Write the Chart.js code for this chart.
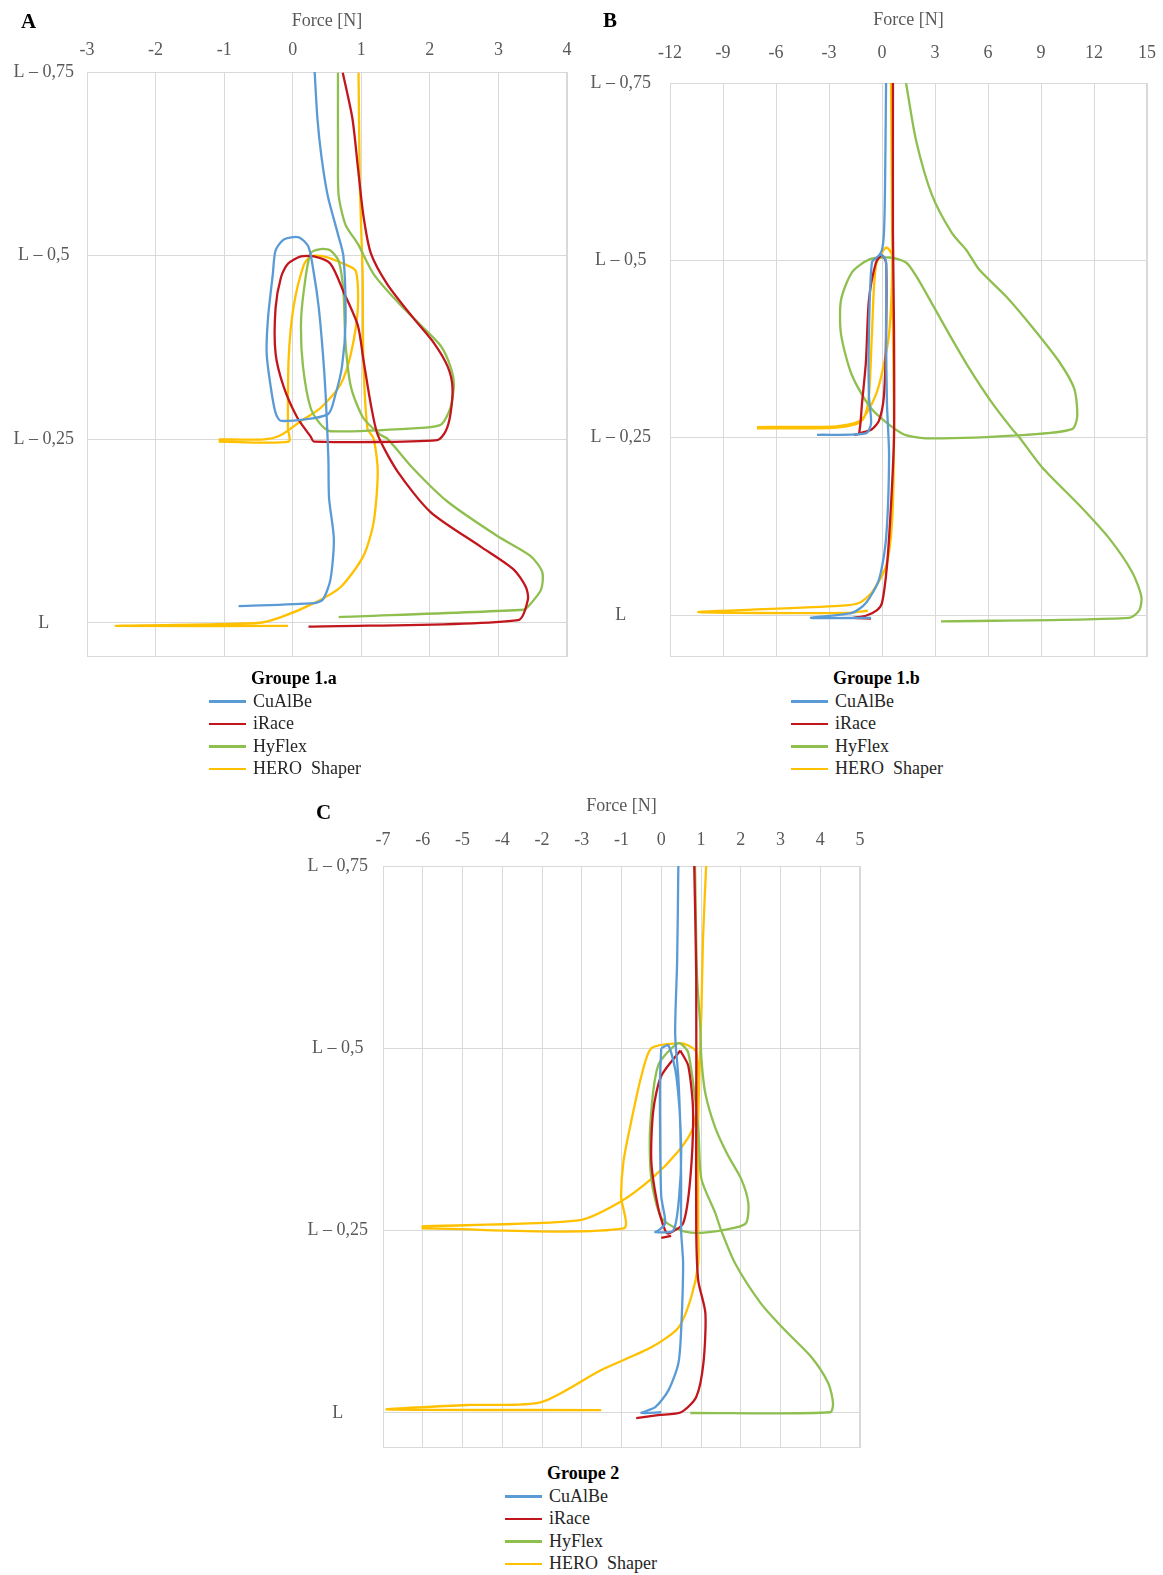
<!DOCTYPE html>
<html>
<head>
<meta charset="utf-8">
<script src="https://cdn.jsdelivr.net/npm/chart.js@4/dist/chart.umd.min.js"></script>
<style>
  body { margin: 0; background: #fff; width: 1163px; height: 1575px; position: relative; overflow: hidden; font-family: "Liberation Serif", "Times New Roman", serif; }
  canvas { position: absolute; }
  .letter { position: absolute; font-weight: bold; font-size: 21px; color: #000; line-height: 24px; }
  .legend { position: absolute; font-size: 18px; color: #262626; line-height: 22.5px; white-space: pre; }
  .legend .t { font-weight: bold; color: #000; }
  .legend .sw { display: inline-block; width: 37px; height: 2.5px; vertical-align: middle; margin-right: 7px; margin-top: -2px; }
</style>
</head>
<body>
<canvas id="chartA" width="580" height="660" style="left:0;top:0"></canvas>
<canvas id="chartB" width="580" height="660" style="left:583px;top:0"></canvas>
<canvas id="chartC" width="580" height="660" style="left:296px;top:790px"></canvas>
<div class="letter" style="left:21px;top:9px">A</div>
<div class="letter" style="left:603px;top:8px">B</div>
<div class="letter" style="left:316px;top:800px">C</div>
<div class="legend" id="legA" style="left:209px;top:667px"></div>
<div class="legend" id="legB" style="left:791px;top:667px"></div>
<div class="legend" id="legC" style="left:505px;top:1462px"></div>
<script>
// series names / colours
const seriesNames = ["CuAlBe", "iRace", "HyFlex", "HERO  Shaper"];
const seriesColors = ["#5b9bd5", "#c0161c", "#8fbf4f", "#ffc000"];

// y axis: distance from L (0 = L, 0.75 = L - 0,75)
const yTicks = [0, 0.25, 0.5, 0.75];
const yLabels = ["L", "L \u2013 0,25", "L \u2013 0,5", "L \u2013 0,75"];

// x ticks
const aXTicks = [-3, -2, -1, 0, 1, 2, 3, 4];
const bXTicks = [-12, -9, -6, -3, 0, 3, 6, 9, 12, 15];
const cXTicks = [-7, -6, -5, -4, -3, -2, -1, 0, 1, 2, 3, 4, 5];
const cXLabels = ["-7", "-6", "-5", "-4", "-2", "-3", "-1", "0", "1", "2", "3", "4", "5"];

// Groupe 1.a  [force, position]
const aCuAlBe = [[0.32,0.75],[0.36,0.687],[0.42,0.634],[0.51,0.582],[0.66,0.529],[0.74,0.499],[0.77,0.41],[0.72,0.35],[0.62,0.31],[0.51,0.284],[-0.17,0.275],[-0.25,0.286],[-0.32,0.321],[-0.38,0.367],[-0.36,0.415],[-0.29,0.475],[-0.25,0.507],[-0.13,0.522],[0.09,0.525],[0.23,0.512],[0.31,0.475],[0.38,0.429],[0.44,0.367],[0.48,0.311],[0.52,0.224],[0.53,0.17],[0.60,0.114],[0.55,0.059],[0.44,0.032],[0.31,0.027],[-0.79,0.023]];
const aIRace = [[0.73,0.749],[0.87,0.687],[0.95,0.621],[1.03,0.555],[1.14,0.503],[1.38,0.461],[1.76,0.415],[2.06,0.381],[2.26,0.349],[2.33,0.321],[2.30,0.284],[2.23,0.261],[2.11,0.249],[0.31,0.247],[0.26,0.254],[0.07,0.279],[-0.13,0.321],[-0.25,0.367],[-0.25,0.429],[-0.17,0.471],[-0.07,0.489],[0.12,0.499],[0.31,0.499],[0.55,0.489],[0.74,0.451],[0.95,0.405],[1.03,0.359],[1.14,0.297],[1.24,0.256],[1.53,0.206],[2.01,0.151],[2.74,0.104],[3.22,0.073],[3.40,0.049],[3.43,0.032],[3.29,0.004],[0.23,-0.005]];
const aHyFlex = [[0.66,0.749],[0.66,0.634],[0.67,0.582],[0.77,0.542],[0.95,0.516],[1.18,0.475],[1.53,0.437],[1.87,0.405],[2.16,0.377],[2.30,0.349],[2.35,0.325],[2.30,0.293],[2.16,0.270],[1.76,0.265],[0.55,0.261],[0.41,0.270],[0.26,0.293],[0.15,0.349],[0.12,0.405],[0.16,0.451],[0.26,0.503],[0.41,0.509],[0.55,0.507],[0.67,0.493],[0.74,0.451],[0.77,0.381],[0.85,0.321],[1.03,0.279],[1.28,0.256],[1.38,0.251],[1.76,0.210],[2.26,0.165],[2.99,0.118],[3.47,0.091],[3.64,0.069],[3.62,0.045],[3.43,0.022],[3.37,0.018],[0.67,0.008]];
const aHero = [[-0.07,-0.004],[-2.58,-0.004],[-0.51,0.0],[-0.17,0.008],[0.31,0.027],[0.70,0.049],[1.03,0.091],[1.18,0.137],[1.24,0.206],[1.18,0.251],[1.09,0.265],[1.03,0.359],[1.02,0.475],[0.98,0.591],[0.96,0.749],null,[-1.08,0.247],[-0.06,0.247],[-0.07,0.265],[-0.06,0.359],[0.01,0.429],[0.16,0.487],[0.26,0.499],[0.45,0.499],[0.74,0.489],[0.92,0.479],[0.95,0.429],[0.85,0.367],[0.70,0.325],[0.41,0.293],[0.12,0.275],[-0.17,0.256],[-0.42,0.25],[-1.08,0.25]];

// Groupe 1.b
const bCuAlBe = [[0.23,0.75],[0.17,0.60],[0.11,0.538],[0.0,0.515],[-0.17,0.507],[-0.57,0.497],[-0.74,0.396],[-0.74,0.309],[-0.62,0.270],[-0.91,0.256],[-3.68,0.254],null,[-0.17,0.509],[0.11,0.505],[0.23,0.497],[0.23,0.396],[0.28,0.299],[0.40,0.223],[0.23,0.108],[-0.17,0.050],[-0.91,0.017],[-1.70,0.003],[-4.02,-0.004],[-0.62,-0.004]];
const bIRace = [[0.62,0.75],[0.62,0.538],[0.68,0.40],[0.68,0.251],[0.51,0.155],[0.28,0.069],[0.0,0.017],[-0.28,0.007],[-0.91,-0.001],[-1.59,-0.004],[-0.62,-0.005],null,[-1.59,0.254],[-1.30,0.256],[-1.13,0.299],[-0.91,0.357],[-0.74,0.444],[-0.34,0.497],[0.0,0.507],[0.23,0.497],[0.23,0.396],[0.11,0.309],[-0.17,0.274],[-0.57,0.262],[-1.30,0.256]];
const bHyFlex = [[1.36,0.75],[1.93,0.669],[2.83,0.592],[3.97,0.538],[4.76,0.515],[5.50,0.487],[7.03,0.449],[8.50,0.406],[10.03,0.357],[10.88,0.319],[11.05,0.280],[10.76,0.262],[8.16,0.254],[2.49,0.249],[1.13,0.256],[-0.57,0.290],[-1.70,0.338],[-2.32,0.396],[-2.32,0.444],[-1.70,0.483],[-0.74,0.501],[0.40,0.504],[1.36,0.497],[1.93,0.478],[2.83,0.439],[3.80,0.396],[4.93,0.348],[6.23,0.299],[7.37,0.262],[7.76,0.251],[9.07,0.208],[11.16,0.155],[12.86,0.108],[14.17,0.060],[14.68,0.026],[14.57,0.007],[14.0,-0.004],[3.34,-0.009]];
const bHero = [[0.51,0.75],[0.62,0.40],[0.68,0.254],[0.57,0.132],[0.23,0.069],[-0.57,0.032],[-1.30,0.017],[-2.44,0.013],[-10.4,0.004],[-1.87,0.003],[-0.8,0.006],null,[-7.08,0.263],[-2.83,0.264],[-1.47,0.269],[-1.02,0.278],[-0.74,0.309],[-0.57,0.396],[-0.34,0.493],[0.23,0.518],[0.57,0.507],[0.40,0.396],[-0.17,0.324],[-0.74,0.290],[-1.30,0.273],[-2.6,0.266],[-7.08,0.265]];

// Groupe 2
const cCuAlBe = [[0.43,0.75],[0.40,0.62],[0.35,0.52],[0.43,0.46],[0.48,0.39],[0.50,0.32],[0.50,0.25],[0.55,0.205],[0.50,0.113],[0.43,0.068],[0.18,0.031],[-0.15,0.008],[-0.50,0.0],[0.0,0.001],null,[0.0,0.50],[-0.03,0.46],[-0.03,0.391],[0.0,0.297],[0.10,0.260],[-0.08,0.25],[-0.15,0.248],[0.30,0.25],[0.45,0.297],[0.50,0.367],[0.38,0.462],[0.18,0.504],[0.0,0.50]];
const cIRace = [[0.83,0.75],[0.88,0.60],[0.88,0.40],[0.88,0.25],[0.93,0.182],[1.11,0.137],[1.06,0.068],[0.88,0.022],[0.50,0.001],[-0.08,-0.003],[-0.63,-0.007],null,[0.48,0.497],[0.0,0.462],[-0.20,0.415],[-0.25,0.345],[-0.08,0.282],[0.10,0.25],[0.18,0.246],[0.55,0.260],[0.73,0.321],[0.80,0.415],[0.68,0.476],[0.50,0.495],[0.48,0.497],null,[0.0,0.240],[0.25,0.243]];
const cHyFlex = [[0.85,0.75],[0.90,0.60],[0.98,0.531],[1.01,0.486],[1.11,0.438],[1.36,0.391],[1.68,0.353],[2.01,0.321],[2.19,0.288],[2.14,0.261],[1.86,0.254],[1.01,0.247],[0.50,0.25],[0.0,0.268],[-0.25,0.321],[-0.28,0.391],[-0.08,0.476],[0.43,0.507],[0.68,0.494],[0.93,0.391],[1.01,0.321],[1.36,0.274],[1.51,0.25],[1.86,0.205],[2.51,0.150],[3.12,0.113],[3.77,0.077],[4.20,0.041],[4.32,0.014],[4.25,0.001],[0.73,0.0]];
const cHero = [[1.13,0.75],[1.05,0.65],[1.01,0.55],[0.93,0.40],[0.93,0.25],[0.93,0.205],[0.75,0.158],[0.43,0.117],[-0.25,0.090],[-1.51,0.059],[-3.02,0.015],[-4.85,0.011],[-6.91,0.005],[-1.51,0.004],null,[-6.03,0.253],[-0.95,0.253],[-1.01,0.297],[-0.95,0.345],[-0.75,0.401],[-0.50,0.462],[-0.25,0.50],[0.43,0.507],[0.68,0.504],[0.88,0.495],[0.93,0.438],[0.80,0.391],[0.43,0.359],[-0.25,0.321],[-1.08,0.288],[-2.09,0.264],[-6.03,0.256]];

const FONT = "'Liberation Serif', 'Times New Roman', serif";
const GRID = "#d9d9d9";
const TXT = "#595959";

function pts(arr) {
  return arr.map(p => p ? { x: p[0], y: p[1] } : { x: null, y: null });
}

// light frame round the plot area
const framePlugin = {
  id: "frame",
  beforeDatasetsDraw(chart) {
    const { ctx, chartArea: a } = chart;
    ctx.save();
    ctx.strokeStyle = GRID;
    ctx.lineWidth = 1;
    ctx.strokeRect(Math.round(a.left) + 0.5, Math.round(a.top) + 0.5,
      Math.round(a.right - a.left) - 1, Math.round(a.bottom - a.top) - 1);
    ctx.restore();
  }
};

function makeChart(id, series, xTicks, xLabels, yMin, lay) {
  return new Chart(document.getElementById(id), {
    type: "scatter",
    data: {
      datasets: series.map((s, i) => ({
        label: seriesNames[i],
        data: pts(s),
        showLine: true,
        spanGaps: false,
        borderColor: seriesColors[i],
        backgroundColor: seriesColors[i],
        borderWidth: 2.3,
        pointRadius: 0,
        tension: 0.25
      }))
    },
    options: {
      responsive: false,
      animation: false,
      devicePixelRatio: 1,
      layout: { padding: { left: 0, top: 0, right: lay.right, bottom: lay.bottom } },
      plugins: { legend: { display: false }, tooltip: { enabled: false } },
      scales: {
        x: {
          type: "linear",
          position: "top",
          min: xTicks[0],
          max: xTicks[xTicks.length - 1],
          afterBuildTicks: s => { s.ticks = xTicks.map(v => ({ value: v })); },
          afterFit: s => { s.height = lay.xh; s.paddingLeft = 0; s.paddingRight = 0; },
          grid: { color: GRID, drawTicks: false },
          border: { display: false },
          ticks: {
            autoSkip: false, maxRotation: 0, padding: lay.xpad, color: TXT,
            font: { family: FONT, size: 18 },
            callback: (v, i) => xLabels[i]
          },
          title: {
            display: true, text: "Force [N]", color: TXT,
            font: { family: FONT, size: 18 },
            padding: { top: lay.tpad, bottom: 0 }
          }
        },
        y: {
          type: "linear",
          min: yMin,
          max: 0.75,
          afterBuildTicks: s => { s.ticks = yTicks.map(v => ({ value: v })); },
          afterFit: s => { s.width = 87; s.paddingTop = 0; s.paddingBottom = 0; },
          grid: { color: GRID, drawTicks: false },
          border: { display: false },
          ticks: {
            autoSkip: false, crossAlign: "center", padding: lay.ypad, color: TXT,
            font: { family: FONT, size: 18 },
            callback: (v, i) => yLabels[i]
          }
        }
      }
    },
    plugins: [framePlugin]
  });
}

makeChart("chartA", [aCuAlBe, aIRace, aHyFlex, aHero], aXTicks, aXTicks.map(String), -0.0463,
  { right: 13, bottom: 3, xh: 72, xpad: 11, tpad: 10, ypad: 13 });
makeChart("chartB", [bCuAlBe, bIRace, bHyFlex, bHero], bXTicks, bXTicks.map(String), -0.0592,
  { right: 16, bottom: 3, xh: 83, xpad: 19, tpad: 9, ypad: 19 });
makeChart("chartC", [cCuAlBe, cIRace, cHyFlex, cHero], cXTicks, cXLabels, -0.048,
  { right: 16, bottom: 2, xh: 76, xpad: 15, tpad: 5, ypad: 15 });

// legends
function legend(id, title) {
  let html = '<div class="t" style="padding-left:42px">' + title + '</div>';
  seriesNames.forEach((n, i) => {
    html += '<div><span class="sw" style="background:' + seriesColors[i] + '"></span>' + n + '</div>';
  });
  document.getElementById(id).innerHTML = html;
}
legend("legA", "Groupe 1.a");
legend("legB", "Groupe 1.b");
legend("legC", "Groupe 2");
</script>
</body>
</html>
